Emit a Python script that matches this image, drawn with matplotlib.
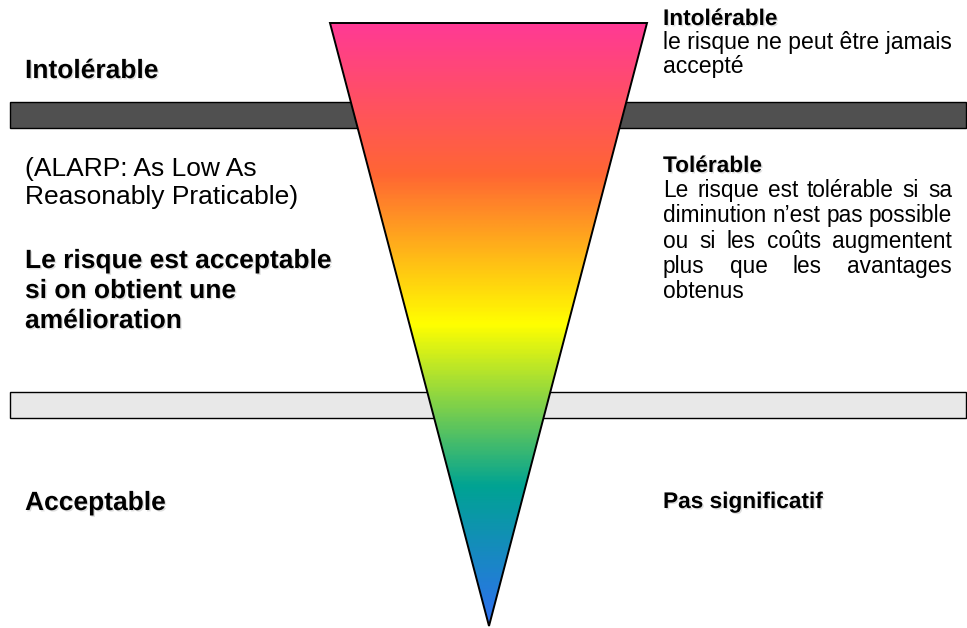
import numpy as np
import matplotlib
matplotlib.use("Agg")
import matplotlib.pyplot as plt
from matplotlib.colors import LinearSegmentedColormap
from matplotlib.patches import Polygon, Rectangle
import matplotlib.patheffects as pe

W, H = 967, 628

# gradient of the risk triangle, top (0) to apex (1)
grad_pos = [0.0, 0.25, 0.50, 0.77, 1.0]
grad_colors = ["#ff3a94", "#ff6633", "#ffff00", "#00a393", "#2f6ff0"]

# left column labels
left_title = "Intolérable"
left_alarp = ["(ALARP: As Low As", "Reasonably Praticable)"]
left_bold = ["Le risque est acceptable", "si on obtient une", "amélioration"]
left_bottom = "Acceptable"

# right column labels
right_top_title = "Intolérable"
right_top_body = ["le risque ne peut être jamais", "accepté"]
right_mid_title = "Tolérable"
right_mid_body = ["Le risque est tolérable si sa",
                  "diminution n’est pas possible",
                  "ou si les coûts augmentent",
                  "plus que les avantages",
                  "obtenus"]
right_bottom = "Pas significatif"

plt.rcParams["font.family"] = ["Liberation Sans", "DejaVu Sans"]

fig = plt.figure(figsize=(W / 100, H / 100), dpi=100)
ax = fig.add_axes([0, 0, 1, 1])
ax.set_xlim(0, W)
ax.set_ylim(H, 0)
ax.axis("off")

# horizontal bands
ax.add_patch(Rectangle((10, 102), 956, 26, facecolor="#505050", edgecolor="black", lw=1.0, zorder=1))
ax.add_patch(Rectangle((10, 392), 956, 26, facecolor="#e8e8e8", edgecolor="black", lw=1.0, zorder=1))

# triangle with vertical gradient
tri_top, tri_left, tri_right = 23, 330, 647
apex = (489, 626)
cmap = LinearSegmentedColormap.from_list("risk", list(zip(grad_pos, grad_colors)))
grad = np.linspace(0, 1, 400).reshape(-1, 1)
im = ax.imshow(grad, cmap=cmap, extent=(tri_left, tri_right, apex[1], tri_top),
               aspect="auto", zorder=2, interpolation="bilinear")
tri = Polygon([(tri_left, tri_top), (tri_right, tri_top), apex], closed=True,
              facecolor="none", edgecolor="black", lw=1.4, zorder=3)
ax.add_patch(tri)
im.set_clip_path(tri)

shadow = [pe.withSimplePatchShadow(offset=(1, -1), shadow_rgbFace="gray", alpha=0.25)]

LS, RS, RB = 19, 16.3, 16.6
lx, rx, rx2 = 25, 663, 952

ax.text(lx, 78, left_title, fontsize=LS, fontweight="bold", va="baseline", path_effects=shadow)
for i, s in enumerate(left_alarp):
    ax.text(lx, 176 + i * 28, s, fontsize=LS, va="baseline")
for i, s in enumerate(left_bold):
    ax.text(lx, 268 + i * 30, s, fontsize=LS, fontweight="bold", va="baseline", path_effects=shadow)
ax.text(lx, 510, left_bottom, fontsize=LS, fontweight="bold", va="baseline", path_effects=shadow)

ax.text(rx, 25, right_top_title, fontsize=RS, fontweight="bold", va="baseline", path_effects=shadow)
for i, s in enumerate(right_top_body):
    ax.text(rx, 49 + i * 24, s, fontsize=RB, va="baseline")
ax.text(rx, 172, right_mid_title, fontsize=RS, fontweight="bold", va="baseline", path_effects=shadow)
ax.text(rx, 508, right_bottom, fontsize=RS, fontweight="bold", va="baseline", path_effects=shadow)

# justified paragraph, like the word-processor original
renderer = fig.canvas.get_renderer()
for i, line in enumerate(right_mid_body):
    y = 197 + i * 25.3
    words = line.split()
    if i == len(right_mid_body) - 1:
        ax.text(rx, y, line, fontsize=RS, va="baseline")
        continue
    texts = [ax.text(0, y, w, fontsize=RS, va="baseline") for w in words]
    widths = [t.get_window_extent(renderer).width for t in texts]
    gap = (rx2 - rx - sum(widths)) / (len(words) - 1)
    x = rx
    for t, w in zip(texts, widths):
        t.set_x(x)
        x += w + gap

fig.savefig("out.png", dpi=100, facecolor="white")
